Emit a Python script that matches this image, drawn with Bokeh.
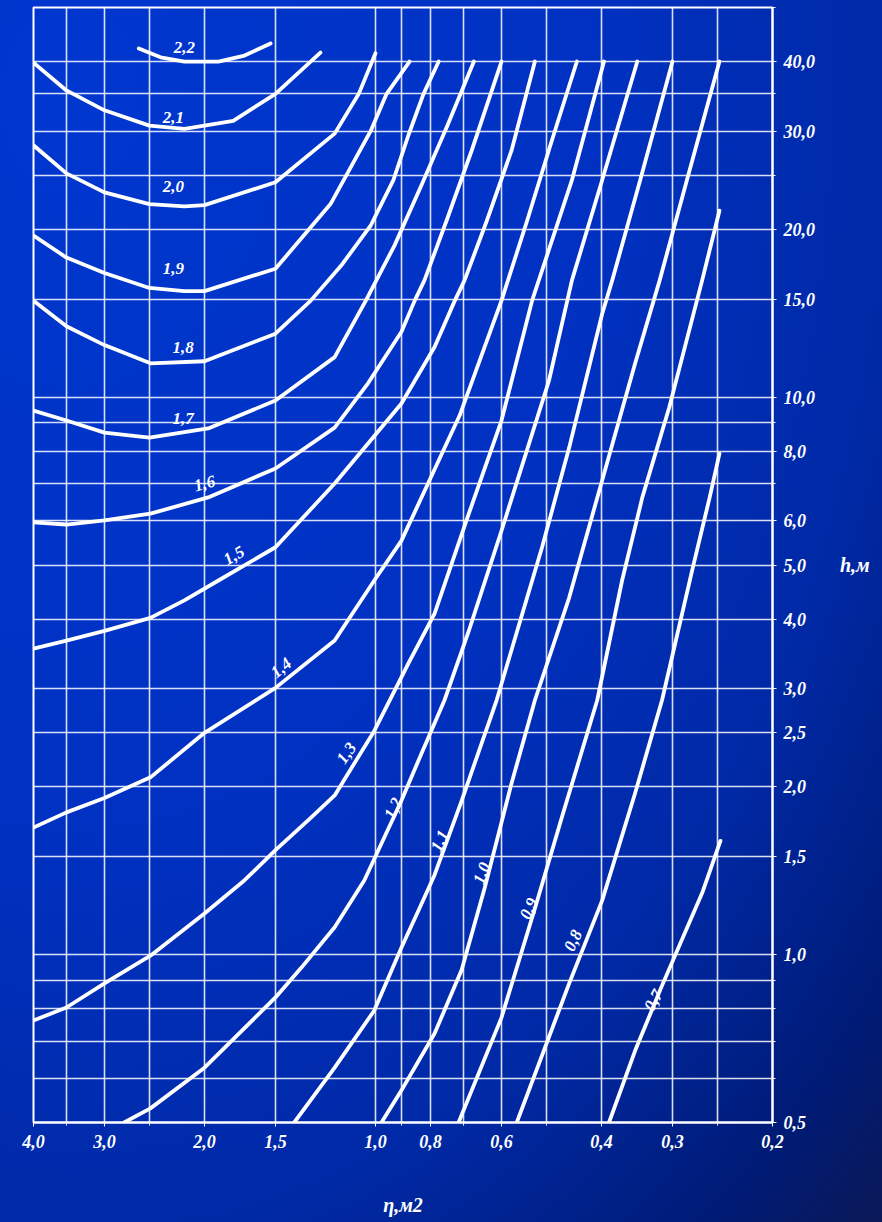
from bokeh.plotting import figure
from bokeh.models import Range1d, FixedTicker, GlobalInlineStyleSheet
from bokeh.core.properties import value
from bokeh.embed import file_html
from bokeh.resources import INLINE
import math

# ---------------- data ----------------
x_ticks = [4.0, 3.0, 2.0, 1.5, 1.0, 0.8, 0.6, 0.4, 0.3, 0.2]
x_tick_labels = ["4,0", "3,0", "2,0", "1,5", "1,0", "0,8", "0,6", "0,4", "0,3", "0,2"]
x_grid = [4.0, 3.5, 3.0, 2.5, 2.0, 1.5, 1.0, 0.9, 0.8, 0.7, 0.6, 0.5, 0.4, 0.3, 0.25, 0.2]

y_ticks = [0.5, 1.0, 1.5, 2.0, 2.5, 3.0, 4.0, 5.0, 6.0, 8.0, 10.0, 15.0, 20.0, 30.0, 40.0]
y_tick_labels = ["0,5", "1,0", "1,5", "2,0", "2,5", "3,0", "4,0", "5,0", "6,0", "8,0",
                 "10,0", "15,0", "20,0", "30,0", "40,0"]
y_grid = [0.5, 0.6, 0.7, 0.8, 0.9, 1.0, 1.5, 2.0, 2.5, 3.0, 4.0, 5.0, 6.0, 7.0, 8.0, 9.0,
          10.0, 15.0, 20.0, 25.0, 30.0, 35.0, 40.0, 50.0]

x_22 = [2.61, 2.39, 2.17, 1.89, 1.70, 1.53]
y_22 = [42.2, 40.7, 40.0, 40.0, 41.0, 43.1]

x_21 = [4.0, 3.5, 3.0, 2.5, 2.17, 2.0, 1.78, 1.5, 1.25]
y_21 = [39.8, 35.5, 32.7, 30.7, 30.3, 30.7, 31.3, 35.0, 41.5]

x_20 = [4.0, 3.5, 3.0, 2.5, 2.17, 2.0, 1.5, 1.18, 1.07, 1.0]
y_20 = [28.3, 25.2, 23.3, 22.2, 22.0, 22.1, 24.3, 29.7, 35.0, 41.4]

x_19 = [4.0, 3.5, 3.0, 2.5, 2.17, 2.0, 1.5, 1.20, 1.02, 0.956, 0.871]
y_19 = [19.5, 17.8, 16.7, 15.7, 15.5, 15.5, 17.0, 22.2, 30.0, 35.0, 40.0]

x_18 = [4.0, 3.5, 3.0, 2.49, 2.0, 1.5, 1.30, 1.15, 1.02, 0.93, 0.875, 0.823, 0.774]
y_18 = [14.9, 13.4, 12.4, 11.5, 11.6, 13.0, 14.9, 17.2, 20.3, 24.5, 29.5, 35.0, 40.0]

x_17 = [4.0, 3.5, 3.0, 2.5, 1.97, 1.5, 1.18, 1.04, 0.926, 0.83, 0.747, 0.671]
y_17 = [9.46, 9.08, 8.64, 8.46, 8.79, 9.86, 11.8, 14.9, 18.7, 24.0, 30.7, 40.0]

x_16 = [4.0, 3.5, 3.0, 2.49, 1.97, 1.5, 1.18, 1.03, 0.90, 0.853, 0.82, 0.75, 0.677, 0.60]
y_16 = [5.96, 5.91, 6.01, 6.18, 6.61, 7.45, 8.82, 10.6, 13.1, 14.9, 16.2, 20.7, 27.7, 40.0]

x_15 = [4.0, 3.5, 3.0, 2.49, 2.17, 1.89, 1.5, 1.18, 0.90, 0.787, 0.725, 0.697, 0.637, 0.576, 0.524]
y_15 = [3.54, 3.66, 3.81, 4.02, 4.32, 4.69, 5.38, 7.0, 9.74, 12.3, 14.9, 16.2, 20.7, 27.7, 40.0]

x_14 = [4.0, 3.5, 3.0, 2.49, 2.0, 1.5, 1.18, 1.005, 0.90, 0.711, 0.60, 0.541, 0.489, 0.442]
y_14 = [1.69, 1.80, 1.91, 2.08, 2.5, 3.01, 3.66, 4.69, 5.53, 9.27, 14.9, 20.7, 28.9, 40.0]

x_13 = [4.0, 3.5, 3.0, 2.49, 2.0, 1.70, 1.5, 1.30, 1.18, 1.005, 0.875, 0.787, 0.685, 0.60, 0.530, 0.451, 0.396]
y_13 = [0.762, 0.804, 0.888, 0.996, 1.185, 1.36, 1.54, 1.76, 1.93, 2.52, 3.33, 4.09, 6.18, 9.08, 14.9, 24.5, 40.0]

x_12 = [2.77, 2.49, 2.0, 1.5, 1.35, 1.18, 1.046, 0.90, 0.84, 0.756, 0.685, 0.60, 0.495, 0.451, 0.399, 0.346]
y_12 = [0.5, 0.53, 0.627, 0.838, 0.948, 1.12, 1.36, 1.89, 2.23, 2.86, 3.81, 5.76, 10.7, 16.2, 24.5, 40.0]

x_11 = [1.39, 1.18, 1.005, 0.90, 0.84, 0.787, 0.705, 0.612, 0.509, 0.456, 0.399, 0.383, 0.342, 0.30]
y_11 = [0.5, 0.627, 0.794, 1.03, 1.20, 1.39, 1.89, 2.86, 5.38, 8.12, 14.1, 16.2, 24.5, 40.0]

x_10 = [0.976, 0.90, 0.787, 0.705, 0.642, 0.576, 0.524, 0.456, 0.399, 0.349, 0.316, 0.283, 0.248]
y_10 = [0.5, 0.571, 0.722, 0.94, 1.32, 2.03, 2.86, 4.37, 7.09, 11.5, 16.2, 24.5, 40.0]

x_09 = [0.714, 0.60, 0.524, 0.47, 0.407, 0.368, 0.339, 0.304, 0.266, 0.248]
y_09 = [0.5, 0.771, 1.21, 1.76, 2.86, 4.69, 6.61, 9.58, 16.2, 21.6]

x_08 = [0.564, 0.456, 0.399, 0.349, 0.313, 0.277, 0.258, 0.248]
y_08 = [0.5, 0.888, 1.25, 1.95, 2.86, 4.89, 6.61, 7.92]

x_07 = [0.388, 0.349, 0.313, 0.266, 0.247]
y_07 = [0.5, 0.673, 0.88, 1.29, 1.60]

curve_labels = ["2,2", "2,1", "2,0", "1,9", "1,8", "1,7", "1,6", "1,5",
                "1,4", "1,3", "1,2", "1,1", "1,0", "0,9", "0,8", "0,7"]
label_x = [2.17, 2.27, 2.27, 2.27, 2.18, 2.18, 2.0, 1.775, 1.466, 1.125, 0.93, 0.771, 0.65, 0.537, 0.449, 0.324]
label_y = [42.4, 31.7, 23.9, 17.0, 12.3, 9.16, 7.0, 5.2, 3.27, 2.30, 1.83, 1.60, 1.40, 1.21, 1.06, 0.828]
label_angle_deg = [0, 0, 0, 0, 0, 0, 15, 30, 40, 55, 65, 65, 70, 65, 65, 60]

x_title = "η,м2"
y_title = "h,м"

curves = [(x_22, y_22), (x_21, y_21), (x_20, y_20), (x_19, y_19), (x_18, y_18),
          (x_17, y_17), (x_16, y_16), (x_15, y_15), (x_14, y_14), (x_13, y_13),
          (x_12, y_12), (x_11, y_11), (x_10, y_10), (x_09, y_09), (x_08, y_08),
          (x_07, y_07)]

# ---------------- figure ----------------
FONT = "Liberation Serif"

p = figure(width=880, height=1220, output_backend="svg", toolbar_location=None,
           x_axis_type="log", y_axis_type="log",
           x_range=Range1d(4.0, 0.2), y_range=Range1d(0.5, 50.0),
           y_axis_location="right",
           min_border_left=33, min_border_top=7, min_border_right=108, min_border_bottom=98)

p.background_fill_color = None
p.border_fill_color = None
p.outline_line_color = "white"
p.outline_line_width = 2

bg = ("radial-gradient(ellipse farthest-corner at 8% 8%, #0037cf 0%, #0031c2 45%, "
      "#0029a6 72%, #001b76 90%, #0a1856 100%)")
p.stylesheets = [GlobalInlineStyleSheet(
    css="html{background:" + bg + ";min-height:100%;} body{background:transparent;margin:0;}")]
p.styles = {"background": "transparent"}

# grids
p.xgrid.ticker = FixedTicker(ticks=x_grid)
p.ygrid.ticker = FixedTicker(ticks=y_grid)
for g in (p.xgrid, p.ygrid):
    g.grid_line_color = "white"
    g.grid_line_alpha = 0.85
    g.grid_line_width = 1.6

# axes
p.xaxis.ticker = FixedTicker(ticks=x_ticks, minor_ticks=x_grid)
p.yaxis.ticker = FixedTicker(ticks=y_ticks, minor_ticks=y_grid)
p.xaxis.major_label_overrides = {t: s for t, s in zip(x_ticks, x_tick_labels)}
p.yaxis.major_label_overrides = {t: s for t, s in zip(y_ticks, y_tick_labels)}
for ax in (p.xaxis, p.yaxis):
    ax.axis_line_color = "white"
    ax.axis_line_width = 2
    ax.major_tick_line_color = "white"
    ax.minor_tick_line_color = "white"
    ax.major_tick_in = 0
    ax.major_tick_out = 4
    ax.minor_tick_in = 0
    ax.minor_tick_out = 3
    ax.major_label_text_color = "white"
    ax.major_label_text_font = FONT
    ax.major_label_text_font_style = "bold italic"
    ax.major_label_text_font_size = "18px"
    ax.axis_label_text_color = "white"
    ax.axis_label_text_font = FONT
    ax.axis_label_text_font_style = "bold italic"
    ax.axis_label_text_font_size = "20px"

p.xaxis.major_label_standoff = 8
p.yaxis.major_label_standoff = 7
p.yaxis.major_label_text_baseline = "alphabetic"
p.xaxis.axis_label = x_title
p.xaxis.axis_label_standoff = 43
p.yaxis.axis_label = y_title
p.yaxis.axis_label_orientation = "horizontal"
p.yaxis.axis_label_standoff = 22
p.yaxis.axis_label_text_baseline = "top"

for xs, ys in curves:
    p.line(xs, ys, line_color="white", line_width=3.8, line_join="round", line_cap="round")

p.text(x=label_x, y=label_y, text=curve_labels,
       angle=[math.radians(a) for a in label_angle_deg],
       text_color="white", text_font=value(FONT), text_font_style="bold italic",
       text_font_size="17px", text_align="center", text_baseline="middle")

open("out.html", "w").write(file_html(p, INLINE))
